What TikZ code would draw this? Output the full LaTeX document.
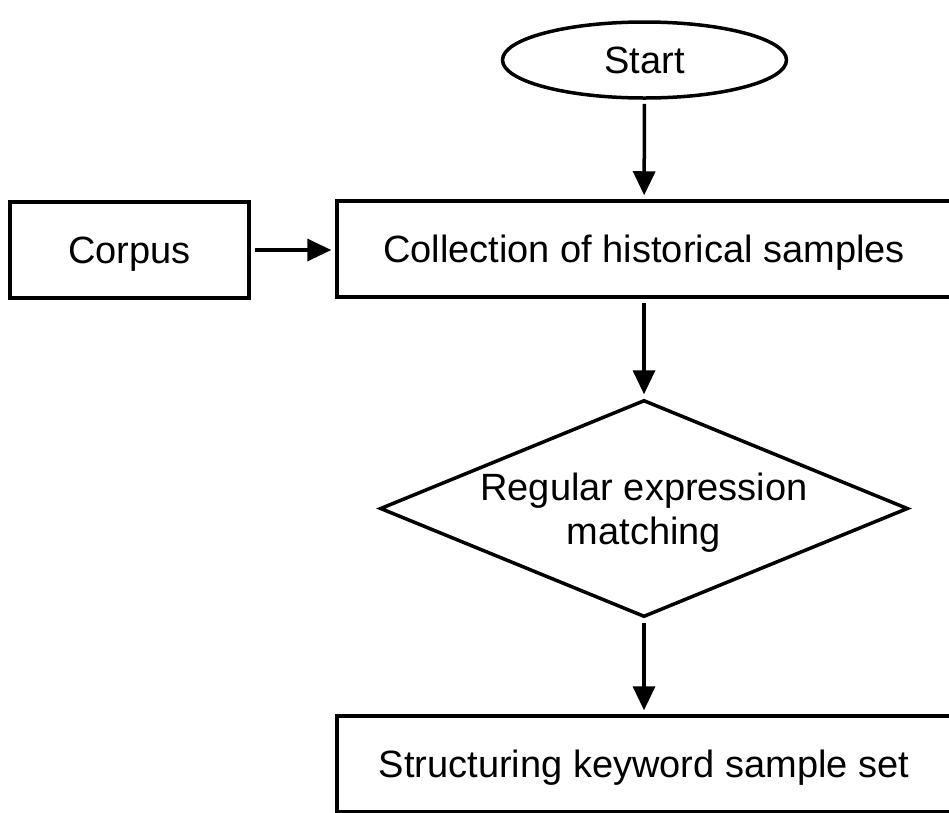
\documentclass[tikz,border=0pt]{standalone}
\usepackage{fontspec}
\setmainfont{Liberation Sans}
\usetikzlibrary{
  arrows.meta,
  shapes.geometric
}

\begin{document}
\begin{tikzpicture}[
  x=1pt, y=-1pt,
  every node/.style={font=\fontsize{38}{44}\selectfont, line width=3.5pt, inner sep=0pt},
  flowbox/.style={draw, rectangle, minimum height=96pt, text depth=0pt},
  flowstart/.style={draw, ellipse, minimum width=284pt, minimum height=76pt},
  flowtest/.style={draw, diamond, aspect=2.43, minimum width=528pt, minimum height=217pt, align=center, text depth=0pt},
  flowarrow/.style={line width=3.5pt, -{Triangle[length=24pt,width=22pt]}, shorten >=4pt, shorten <=4pt},
]
\useasboundingbox (0,0) rectangle (949,812);
\node[flowstart] (start) at (644.5,60) {Start};
\node[flowbox, minimum width=614pt] (collection) at (644,249) {Collection of historical samples};
\node[flowbox, minimum width=239pt] (corpus) at (129.5,250) {Corpus};
\node[flowtest] (matching) at (644,508.5) {Regular expression\\matching};
\node[flowbox, minimum width=614pt] (keyword) at (644,764) {Structuring keyword sample set};
\draw[flowarrow] (start) -- (collection);
\draw[flowarrow] (corpus) -- (corpus -| collection.west);
\draw[flowarrow] (collection) -- (matching);
\draw[flowarrow] (matching) -- (keyword);
\end{tikzpicture}
\end{document}
